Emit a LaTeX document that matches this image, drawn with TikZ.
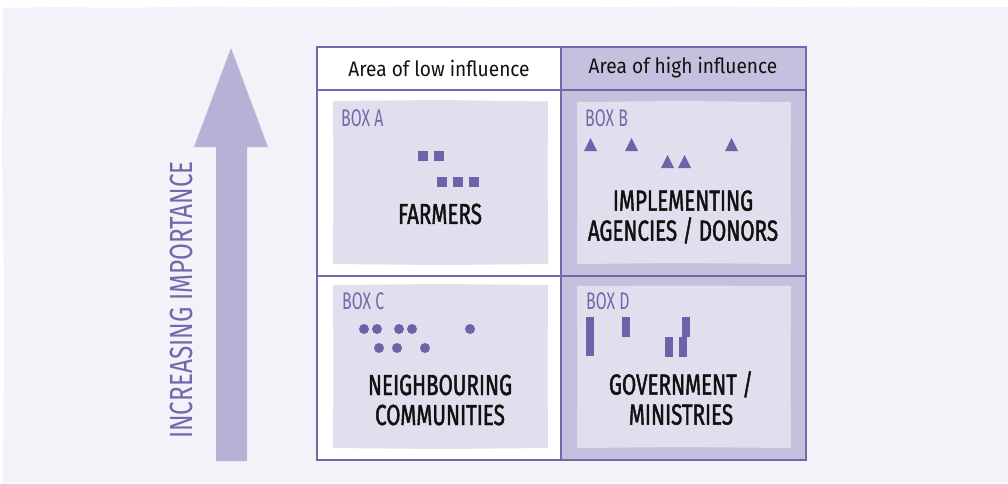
\documentclass[tikz,border=0pt]{standalone}
\usepackage{fontspec}
\setmainfont{Fira Sans}
\newfontfamily\handfont[FakeStretch=0.71, FakeBold=1.5]{Fira Sans}
\newfontfamily\labelfont[FakeStretch=0.66]{Fira Sans}
\newfontfamily\sidefont[FakeStretch=0.76]{Fira Sans}
\newfontfamily\headfont[FakeStretch=0.91]{Fira Sans}
\definecolor{bgpanel}{HTML}{F3F2F8}
\definecolor{gridline}{HTML}{7467AC}
\definecolor{hifill}{HTML}{C5C0DE}
\definecolor{innerfill}{HTML}{E1DFEE}
\definecolor{arrowc}{HTML}{B6B2D5}
\definecolor{markc}{HTML}{6F62A8}
\definecolor{inktext}{HTML}{111111}
\tikzset{
  headtext/.style={font=\headfont\fontsize{21}{24}\selectfont, text=inktext, inner sep=0pt},
  boxlabel/.style={font=\labelfont\fontsize{24}{26}\selectfont, text=gridline, anchor=west, inner sep=0pt},
  bigtext/.style={font=\handfont\fontsize{29}{30}\selectfont, text=inktext, align=center, inner sep=0pt},
  sidetext/.style={font=\sidefont\fontsize{32}{34}\selectfont, text=gridline, rotate=90, inner sep=0pt},
  innerbox/.style={fill=innerfill},
  markfill/.style={fill=markc},
}
\begin{document}
\begin{tikzpicture}[x=1pt,y=-1pt]
\useasboundingbox (0,0) rectangle (1008,483);
% background panel
\fill[bgpanel] (3,8) -- (60,7) -- (120,8) -- (200,6.5) -- (300,7.5) -- (420,6.5) -- (560,7.5) -- (700,6.5) -- (850,7.5) -- (1008,7) -- (1008,483) -- (3,483) -- (4,300) -- (2,150) -- cycle;
% arrow
\fill[arrowc] (216,461) -- (216,147) -- (194,147) -- (231,48) -- (268,147) -- (247,147) -- (247,461) -- cycle;
\node[sidetext] (side) at (181,300) {INCREASING IMPORTANCE};
% table fills
\fill[white] (317,47) rectangle (561,460);
\fill[hifill] (561,47) rectangle (806,460);
% inner boxes
\fill[innerbox] (333,101) -- (440,100) -- (548,101.5) -- (547.5,180) -- (548.5,264) -- (440,265) -- (333,264) -- (333.5,180) -- cycle;
\fill[innerbox] (577,102) -- (680,101) -- (791,102) -- (790.5,180) -- (791,264) -- (680,263) -- (577,264) -- (577.5,180) -- cycle;
\fill[innerbox] (333,285) -- (440,284) -- (548,285) -- (547.5,370) -- (548,448) -- (440,449) -- (333,448) -- (333.5,370) -- cycle;
\fill[innerbox] (577,286) -- (680,285.5) -- (791,286) -- (790.5,370) -- (791,448) -- (680,447) -- (577,448) -- (577.5,370) -- cycle;
% grid
\draw[gridline, line width=2pt] (317,47) rectangle (806,460);
\draw[gridline, line width=1.6pt] (317,90) -- (806,90);
\draw[gridline, line width=1.6pt] (317,276) -- (806,276);
\draw[gridline, line width=1.6pt] (561,47) -- (561,460);
% headers
\node[headtext] (hlow) at (439,68) {Area of low influence};
\node[headtext] (hhigh) at (683,68) {Area of high influence};
% box labels
\node[boxlabel] (la) at (341,118) {BOX A};
\node[boxlabel] (lb) at (585,118) {BOX B};
\node[boxlabel] (lc) at (342,301) {BOX C};
\node[boxlabel] (ld) at (586,301) {BOX D};
% box A squares
\fill[markfill] (418,151) rectangle (428,161);
\fill[markfill] (434,151) rectangle (444,161);
\fill[markfill] (437,177) rectangle (447,187);
\fill[markfill] (453,177) rectangle (463,187);
\fill[markfill] (469,177) rectangle (479,187);
% box B triangles
\foreach \x/\y in {590.5/151, 631.5/151, 731.5/151, 667.5/168, 684.5/168}
  \fill[markfill] (\x-6.5,\y) -- (\x,\y-13) -- (\x+6.5,\y) -- cycle;
% box C circles
\foreach \x/\y in {364/329, 377/329, 399/329, 412/329, 470/329, 379/348, 397/348, 425/348}
  \fill[markfill] (\x,\y) circle (5);
% box D bars
\fill[markfill] (586,317) rectangle (594,356);
\fill[markfill] (622,317) rectangle (630,337);
\fill[markfill] (665,337) rectangle (673,357);
\fill[markfill] (679,337) rectangle (687,357);
\fill[markfill] (682,317) rectangle (690,337);
% main texts
\node[bigtext] (ta) at (440,214) {FARMERS};
\node[bigtext] (tb) at (683,217) {IMPLEMENTING\\AGENCIES / DONORS};
\node[bigtext] (tc) at (440,400) {NEIGHBOURING\\COMMUNITIES};
\node[bigtext] (td) at (681,398) {GOVERNMENT /\\MINISTRIES};
\end{tikzpicture}
\end{document}
